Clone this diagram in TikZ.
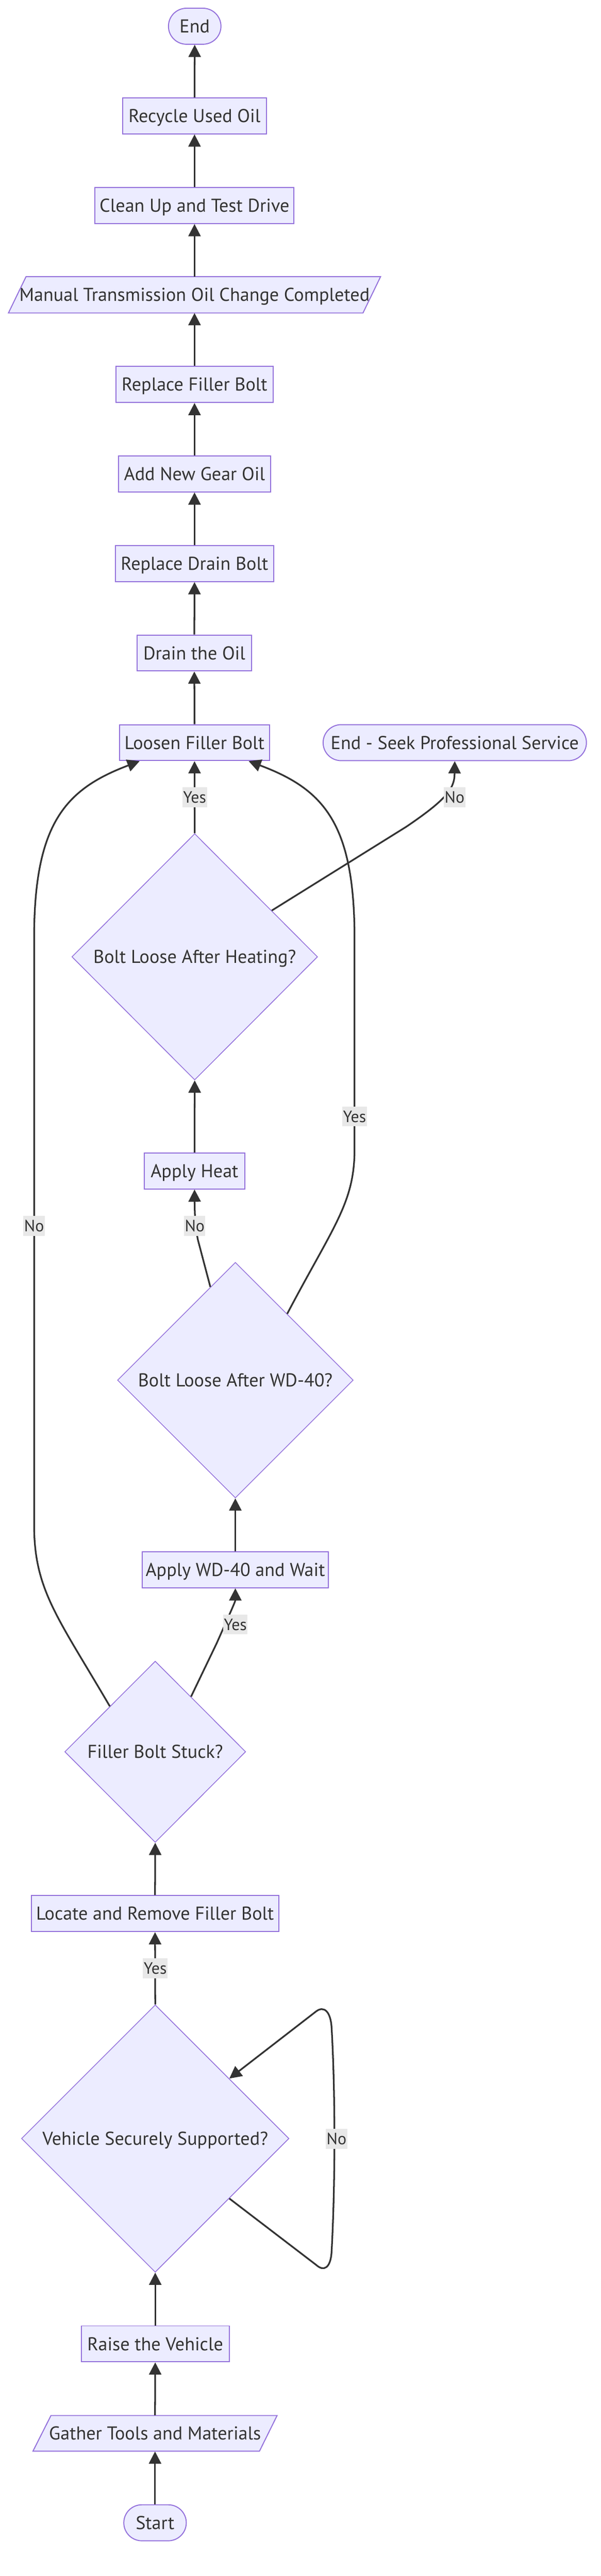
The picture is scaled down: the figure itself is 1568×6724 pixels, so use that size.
\documentclass[tikz,border=0pt]{standalone}
\usepackage{fontspec}
\setmainfont{PT Sans}
\usetikzlibrary{arrows.meta,shapes.geometric,shapes.misc}
\definecolor{nfill}{HTML}{ECECFF}
\definecolor{nline}{HTML}{9370DB}
\definecolor{eline}{HTML}{333333}
\definecolor{lbg}{HTML}{E8E8E8}
\newcommand{\nfnt}{\fontsize{24.3pt}{29pt}\selectfont}
\newcommand{\lfnt}{\fontsize{21.4pt}{26pt}\selectfont}
\tikzset{
  box/.style={rectangle, draw=nline, fill=nfill, line width=1.3pt, minimum height=47pt,
    inner sep=0pt, font=\nfnt, text=eline, text height=17pt, text depth=0pt},
  term/.style={rounded rectangle, draw=nline, fill=nfill, line width=1.3pt, minimum height=47pt,
    inner sep=0pt, font=\nfnt, text=eline, text height=17pt, text depth=0pt},
  ptext/.style={rectangle, minimum height=47pt, inner sep=0pt, font=\nfnt, text=eline,
    text height=17pt, text depth=0pt},
  pshape/.style={draw=nline, fill=nfill, line width=1.3pt},
  dia/.style={diamond, draw=nline, fill=nfill, line width=1pt, inner sep=0pt,
    font=\nfnt, text=eline, text height=17pt, text depth=0pt},
  edge/.style={draw=eline, line width=2.2pt, -{Triangle[length=16pt,width=16pt]}},
  lbl/.style={fill=lbg, font=\lfnt, text=eline, inner xsep=1pt, inner ysep=0pt,
    minimum height=26pt, text height=15pt, text depth=0pt}
}
\begin{document}
\begin{tikzpicture}[x=0.5pt,y=-0.5pt]
\useasboundingbox (0,0) rectangle (1568,6724);
% parallelogram shapes
\draw[pshape] (68,722) -- (993,722) -- (947,817) -- (22,817) -- cycle;
\draw[pshape] (133,6305) -- (723,6305) -- (677,6398) -- (86,6398) -- cycle;
% nodes
\node[term, minimum width=68.5pt] (end) at (508,68.5) {End};
\node[box, minimum width=187.5pt] (recycle) at (507.5,302.5) {Recycle Used Oil};
\node[box, minimum width=259.5pt] (clean) at (507.5,536.5) {Clean Up and Test Drive};
\node[ptext, minimum width=440pt] (manual) at (507.5,769.5) {Manual Transmission Oil Change Completed};
\node[box, minimum width=205.5pt] (rfb) at (507.5,1003.5) {Replace Filler Bolt};
\node[box, minimum width=198.5pt] (gear) at (507.5,1237) {Add New Gear Oil};
\node[box, minimum width=206.5pt] (rdb) at (507.5,1471) {Replace Drain Bolt};
\node[box, minimum width=149pt] (drain) at (507,1704.5) {Drain the Oil};
\node[box, minimum width=196pt] (loosen) at (507.5,1938.5) {Loosen Filler Bolt};
\node[term, minimum width=343.5pt] (seek) at (1186.5,1938.5) {End - Seek Professional Service};
\node[dia, minimum width=320.5pt, minimum height=321.5pt] (heat) at (508,2497.5) {\makebox[0pt]{Bolt Loose After Heating?}};
\node[box, minimum width=131.5pt] (heatbox) at (507.5,3056.5) {Apply Heat};
\node[dia, minimum width=307.5pt, minimum height=307.5pt] (wd) at (614,3602.5) {\makebox[0pt]{Bolt Loose After WD-40?}};
\node[box, minimum width=243pt] (wdbox) at (614,4097.5) {Apply WD-40 and Wait};
\node[dia, minimum width=236pt, minimum height=236.5pt] (fbs) at (405,4572.5) {\makebox[0pt]{Filler Bolt Stuck?}};
\node[box, minimum width=322.5pt] (locate) at (404.5,4995) {Locate and Remove Filler Bolt};
\node[dia, minimum width=349pt, minimum height=349pt] (veh) at (405,5582) {\makebox[0pt]{Vehicle Securely Supported?}};
\node[box, minimum width=193pt] (raise) at (405,6118) {Raise the Vehicle};
\node[ptext, minimum width=280pt] (gather) at (404.5,6351.5) {Gather Tools and Materials};
\node[term, minimum width=81.5pt] (start) at (404.5,6585) {Start};
% straight edges
\draw[edge] (start.north) -- (gather.south);
\draw[edge] (gather.north) -- (raise.south);
\draw[edge] (raise.north) -- (veh.south);
\draw[edge] (veh.north) -- (locate.south);
\draw[edge] (locate.north) -- (fbs.south);
\draw[edge] (wdbox.north) -- (wd.south);
\draw[edge] (heatbox.north) -- (heat.south);
\draw[edge] (heat.north) -- (loosen.south);
\draw[edge] (loosen.north) -- (drain.south);
\draw[edge] (drain.north) -- (rdb.south);
\draw[edge] (rdb.north) -- (gear.south);
\draw[edge] (gear.north) -- (rfb.south);
\draw[edge] (rfb.north) -- (manual.north |- 817,817);
\draw[edge] (manual.north |- 722,722) -- (clean.south);
\draw[edge] (clean.north) -- (recycle.south);
\draw[edge] (recycle.north) -- (end.south);
% curved edges
\draw[edge] (fbs.north west) .. controls (150,4220) and (89,4150) .. (89,3980) -- (89,2450)
  .. controls (89,2150) and (170,2060) .. ([xshift=27pt]loosen.south west);
\draw[edge] (wd.52) .. controls (870,3200) and (925,3140) .. (925,3000) -- (925,2450)
  .. controls (925,2150) and (845,2060) .. ([xshift=-28pt]loosen.south east);
\draw[edge] (heat.31) -- (1060,2158) .. controls (1160,2090) and (1186,2060) .. (1186,2020) -- (seek.south);
\draw[edge] (wd.105) -- (516,3235) .. controls (508,3190) and (508,3160) .. (heatbox.south);
\draw[edge] (fbs.57) -- (565,4290) .. controls (605,4200) and (614,4180) .. (wdbox.south);
\draw[edge] (veh.-39) -- (825,5912) .. controls (845,5930) and (862,5920) .. (865,5880)
  .. controls (875,5700) and (875,5460) .. (865,5290)
  .. controls (862,5250) and (845,5235) .. (825,5250) -- (veh.39);
% edge labels
\node[lbl] (l1) at (508,2081) {Yes};
\node[lbl] (l2) at (1186,2081) {No};
\node[lbl] (l3) at (925,2914) {Yes};
\node[lbl] (l4) at (89,3200) {No};
\node[lbl] (l5) at (508,3200) {No};
\node[lbl] (l6) at (614,4240) {Yes};
\node[lbl] (l7) at (405,5138) {Yes};
\node[lbl] (l8) at (878,5583) {No};
\end{tikzpicture}
\end{document}
